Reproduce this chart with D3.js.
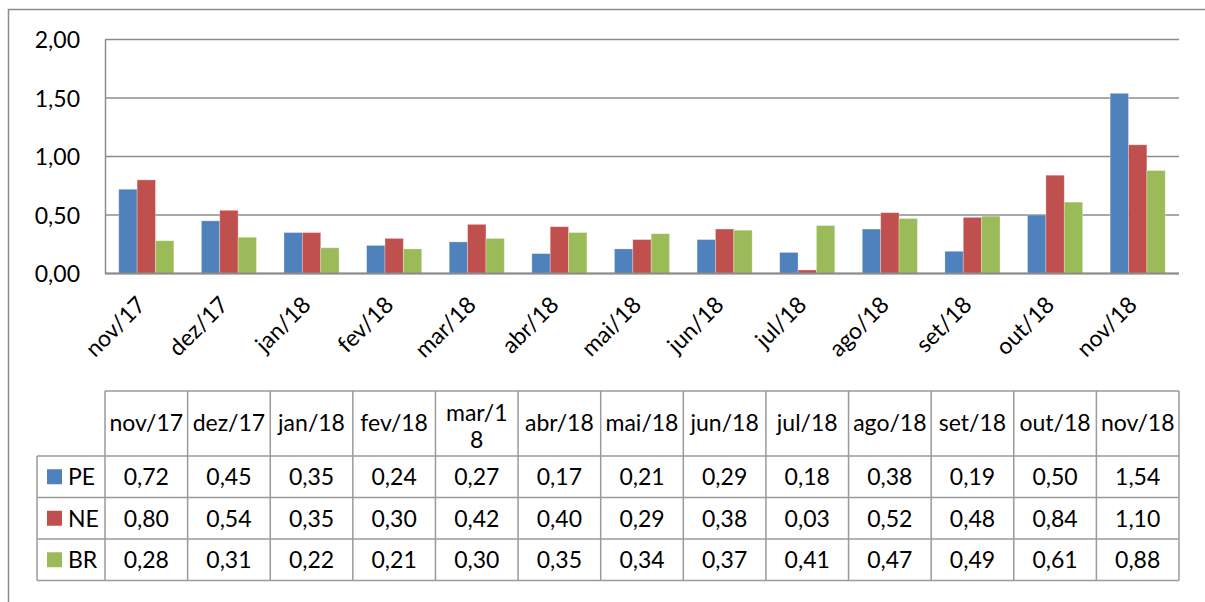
<!DOCTYPE html>
<html>
<head>
<meta charset="utf-8">
<script src="https://cdnjs.cloudflare.com/ajax/libs/d3/7.8.5/d3.min.js"></script>
<style>
  body { margin: 0; background: #fff; }
  svg text { font-family: Lato, "Open Sans", sans-serif; fill: #000; }
</style>
</head>
<body>
<script>
const months = ["nov/17", "dez/17", "jan/18", "fev/18", "mar/18", "abr/18", "mai/18",
                "jun/18", "jul/18", "ago/18", "set/18", "out/18", "nov/18"];
const seriesNames = ["PE", "NE", "BR"];
const peValues = [0.72, 0.45, 0.35, 0.24, 0.27, 0.17, 0.21, 0.29, 0.18, 0.38, 0.19, 0.50, 1.54];
const neValues = [0.80, 0.54, 0.35, 0.30, 0.42, 0.40, 0.29, 0.38, 0.03, 0.52, 0.48, 0.84, 1.10];
const brValues = [0.28, 0.31, 0.22, 0.21, 0.30, 0.35, 0.34, 0.37, 0.41, 0.47, 0.49, 0.61, 0.88];
const yTicks = [0, 0.5, 1, 1.5, 2];
const colors = ["#4F81BD", "#C0504D", "#9BBB59"];

const series = [peValues, neValues, brValues];
const fmt = (v) => d3.format(".2f")(v).replace(".", ",");

const w = 1205;
const h = 602;
const plotLeft = 105, plotRight = 1179, plotTop = 39.5, plotBottom = 273.5;
const fontSize = "23px";

const svg = d3.select("body")
  .append("svg")
  .attr("width", w)
  .attr("height", h);

// outer frame
svg.append("rect")
  .attr("x", 8.5).attr("y", 9.5)
  .attr("width", 1400).attr("height", 800)
  .attr("fill", "none")
  .attr("stroke", "#8c8c8c")
  .attr("stroke-width", 1.5);

const x = d3.scaleBand()
  .domain(months)
  .range([plotLeft, plotRight]);

const inner = d3.scaleBand()
  .domain(seriesNames)
  .range([0, x.bandwidth()])
  .paddingOuter(0.75)
  .paddingInner(0);

const y = d3.scaleLinear()
  .domain([0, 2])
  .range([plotBottom, plotTop]);

// gridlines
svg.append("g")
  .selectAll("line")
  .data(yTicks)
  .enter()
  .append("line")
  .attr("x1", plotLeft).attr("x2", plotRight)
  .attr("y1", (d) => y(d)).attr("y2", (d) => y(d))
  .attr("stroke", "#8c8c8c")
  .attr("stroke-width", 1.5);

// y axis
const yAxis = svg.append("g")
  .attr("transform", `translate(${plotLeft},0)`)
  .call(d3.axisLeft(y).tickValues(yTicks).tickFormat(fmt).tickSize(0).tickPadding(25));
yAxis.select(".domain").attr("stroke", "#8c8c8c").attr("stroke-width", 1.5);
yAxis.selectAll("text").style("font-size", fontSize).attr("dy", "0.35em");

// bars
months.forEach((m, i) => {
  svg.append("g")
    .selectAll("rect")
    .data(seriesNames)
    .enter()
    .append("rect")
    .attr("x", (s) => x(m) + inner(s))
    .attr("y", (s, j) => y(series[j][i]))
    .attr("width", inner.bandwidth())
    .attr("height", (s, j) => plotBottom - y(series[j][i]))
    .attr("fill", (s, j) => colors[j])
    .attr("stroke", "rgba(255,255,255,0.35)")
    .attr("stroke-width", 0.8);
});

// x axis line
svg.append("line")
  .attr("x1", plotLeft).attr("x2", plotRight)
  .attr("y1", plotBottom).attr("y2", plotBottom)
  .attr("stroke", "#8c8c8c")
  .attr("stroke-width", 2);

// rotated month labels
svg.append("g")
  .selectAll("text")
  .data(months)
  .enter()
  .append("text")
  .attr("transform", (d) => `translate(${x(d) + x.bandwidth() / 2 - 5},${plotBottom + 27}) rotate(-45)`)
  .attr("text-anchor", "end")
  .attr("dy", "0.35em")
  .style("font-size", fontSize)
  .text((d) => d);

// data table
const tHead = 391, tRow0 = 456, rowH = 41.5, legendLeft = 37;
const tBottom = tRow0 + rowH * 3;
const table = svg.append("g");
const gridColor = "#9a9a9a";

// vertical lines
const colEdges = months.map((m) => x(m)).concat([plotRight]);
table.selectAll("line.v")
  .data(colEdges)
  .enter()
  .append("line")
  .attr("class", "v")
  .attr("x1", (d) => d).attr("x2", (d) => d)
  .attr("y1", tHead).attr("y2", tBottom)
  .attr("stroke", gridColor).attr("stroke-width", 1.5);
table.append("line")
  .attr("x1", legendLeft).attr("x2", legendLeft)
  .attr("y1", tRow0).attr("y2", tBottom)
  .attr("stroke", gridColor).attr("stroke-width", 1.5);

// horizontal lines
table.append("line")
  .attr("x1", plotLeft).attr("x2", plotRight)
  .attr("y1", tHead).attr("y2", tHead)
  .attr("stroke", gridColor).attr("stroke-width", 1.5);
table.selectAll("line.h")
  .data([0, 1, 2, 3])
  .enter()
  .append("line")
  .attr("class", "h")
  .attr("x1", legendLeft).attr("x2", plotRight)
  .attr("y1", (d) => tRow0 + d * rowH).attr("y2", (d) => tRow0 + d * rowH)
  .attr("stroke", gridColor).attr("stroke-width", 1.5);

// header labels (mar/18 wraps in its cell)
table.selectAll("text.head")
  .data(months)
  .enter()
  .append("text")
  .attr("class", "head")
  .attr("text-anchor", "middle")
  .style("font-size", fontSize)
  .each(function (d) {
    const cx = x(d) + x.bandwidth() / 2;
    const t = d3.select(this);
    if (d === "mar/18") {
      t.append("tspan").attr("x", cx).attr("y", 421).text("mar/1");
      t.append("tspan").attr("x", cx).attr("y", 448).text("8");
    } else {
      t.attr("x", cx).attr("y", 431).text(d);
    }
  });

// legend keys and names
seriesNames.forEach((s, j) => {
  const cy = tRow0 + rowH * j + rowH / 2;
  table.append("rect")
    .attr("x", 47).attr("y", cy - 7.5)
    .attr("width", 15).attr("height", 15)
    .attr("fill", colors[j]);
  table.append("text")
    .attr("x", 68).attr("y", cy)
    .attr("dy", "0.36em")
    .style("font-size", fontSize)
    .text(s);
  table.append("g")
    .selectAll("text")
    .data(series[j])
    .enter()
    .append("text")
    .attr("x", (d, i) => x(months[i]) + x.bandwidth() / 2)
    .attr("y", cy)
    .attr("dy", "0.36em")
    .attr("text-anchor", "middle")
    .style("font-size", fontSize)
    .text((d) => fmt(d));
});
</script>
</body>
</html>
